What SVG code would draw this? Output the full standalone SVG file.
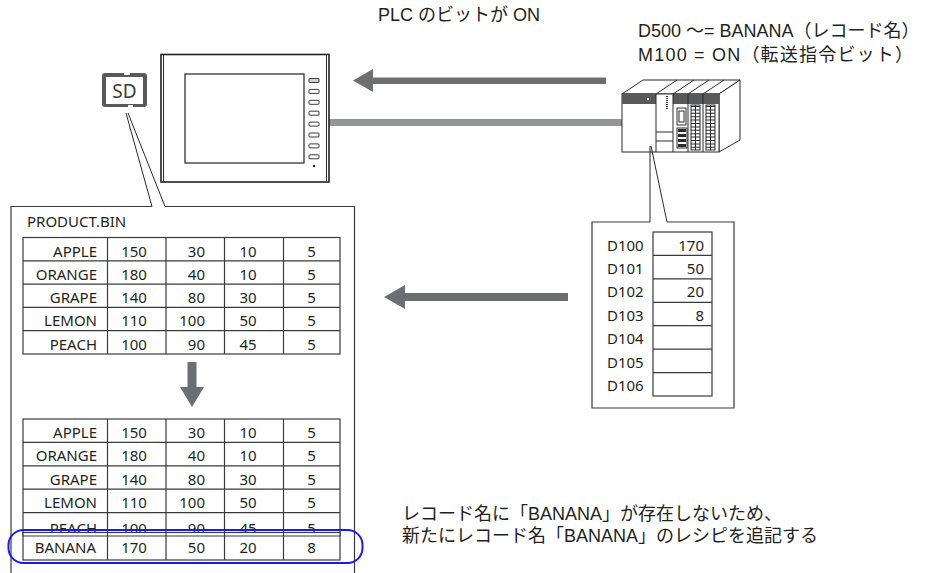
<svg xmlns="http://www.w3.org/2000/svg" width="926" height="573" viewBox="0 0 926 573">
  <defs>
    <style>
      .txt { font-family: "Liberation Sans", "Noto Sans CJK JP", sans-serif; font-size: 18px; fill: #231f20; }
      .tb { font-family: "Noto Sans", "Open Sans", sans-serif; font-size: 15px; fill: #231f20; }
      .grid { fill: #ffffff; stroke: #3a3a3a; stroke-width: 1.2; }
      .gl { stroke: #3a3a3a; stroke-width: 1.2; fill: none; }
      .box { fill: #ffffff; stroke: #3a3a3a; stroke-width: 1.2; }
      .ln { stroke: #2a2a2a; stroke-width: 1; fill: none; }
      .arrow { fill: #6d6e71; }
      .dev { fill: #ffffff; stroke: #2a2a2a; stroke-width: 1; }
      .dark { fill: #58595b; }
      .e { text-anchor: end; }
      .m { text-anchor: middle; }
    </style>
  </defs>

  <!-- captions -->
  <text class="txt e" x="540" y="21">PLC のビットが ON</text>
  <text class="txt" x="638" y="37">D500 ～= BANANA（レコード名）</text>
  <text class="txt" x="638" y="61" textLength="275" lengthAdjust="spacing">M100 = ON（転送指令ビット）</text>
  <text class="txt" x="402" y="520">レコード名に「BANANA」が存在しないため、</text>
  <text class="txt" x="402" y="542">新たにレコード名「BANANA」のレシピを追記する</text>

  <!-- connectors -->
  <g id="connectors">
    <rect x="329" y="119" width="293" height="7" fill="#939598"/>
    <polygon class="arrow" points="353,80.5 373,69 373,77.5 606,77.5 606,84 373,84 373,92"/>
    <polygon class="arrow" points="384,297 405,285 405,293 568,293 568,301 405,301 405,309"/>
  </g>

  <!-- SD card -->
  <g id="sd-card">
    <path class="dark" d="M105,73 H124 V75 H130 V73 H144 Q147,73 147,76 V104 Q147,107 144,107 H133 V105 H128 V107 H105 Q102,107 102,104 V76 Q102,73 105,73 Z"/>
    <rect x="106" y="77" width="37" height="27" fill="#ffffff"/>
    <text x="124.5" y="98" font-family="Noto Sans, Open Sans, sans-serif" font-size="19" fill="#3a3a3a" text-anchor="middle">SD</text>
  </g>

  <!-- operator panel -->
  <g id="hmi">
    <rect x="161" y="54.5" width="168" height="127.5" fill="#ffffff" stroke="#222" stroke-width="1.6"/>
    <line class="ln" x1="163.5" y1="55" x2="163.5" y2="181.5"/>
    <line class="ln" x1="326.5" y1="55" x2="326.5" y2="181.5"/>
    <rect x="185" y="74" width="119" height="89" fill="#ffffff" stroke="#222" stroke-width="1.2"/>
    <g fill="#ffffff" stroke="#222" stroke-width="0.9">
      <rect x="309" y="78.5" width="10" height="4" rx="1" fill="#cfcfcf"/>
      <rect x="309" y="89.4" width="10" height="4" rx="1"/>
      <rect x="309" y="100.3" width="10" height="4" rx="1"/>
      <rect x="309" y="111.2" width="10" height="4" rx="1"/>
      <rect x="309" y="122.1" width="10" height="4" rx="1"/>
      <rect x="309" y="133" width="10" height="4" rx="1"/>
      <rect x="309" y="143.9" width="10" height="4" rx="1"/>
      <rect x="309" y="154.8" width="10" height="4" rx="1"/>
    </g>
    <circle cx="314" cy="166" r="1.2" fill="#222"/>
  </g>

  <!-- PLC rack -->
  <g id="plc">
    <polygon class="dev" points="622,94 643,80 740,80 719,94"/>
    <polygon class="dev" points="719,94 740,80 740,140 719,152"/>
    <rect class="dev" x="622" y="94" width="97" height="58"/>
    <rect class="dark" x="622" y="94" width="34" height="10"/>
    <rect class="dark" x="673" y="94" width="46" height="10"/>
    <rect x="647" y="98" width="2" height="2" fill="#ffffff"/>
    <g class="ln">
      <line x1="656" y1="94" x2="677" y2="80"/>
      <line x1="673" y1="94" x2="694" y2="80"/>
      <line x1="688" y1="94" x2="709" y2="80"/>
      <line x1="703" y1="94" x2="724" y2="80"/>
      <line x1="656" y1="94" x2="656" y2="152"/>
      <line x1="673" y1="94" x2="673" y2="152"/>
      <line x1="688" y1="94" x2="688" y2="152"/>
      <line x1="703" y1="94" x2="703" y2="152"/>
      <line x1="656" y1="132" x2="673" y2="132"/>
      <line x1="656" y1="141" x2="673" y2="141"/>
    </g>
    <line x1="667" y1="96" x2="667" y2="109" stroke="#2a2a2a" stroke-width="2" stroke-dasharray="1 1"/>
    <!-- serial port and terminal block -->
    <rect class="dev" x="677" y="108" width="9" height="17"/>
    <rect class="dev" x="679" y="111" width="5" height="11"/>
    <rect class="dev" x="677" y="128" width="10" height="20"/>
    <line x1="682" y1="129" x2="682" y2="147" stroke="#2a2a2a" stroke-width="8" stroke-dasharray="3 2"/>
    <!-- I/O terminal ladders -->
    <rect class="dev" x="691" y="105" width="9" height="45"/>
    <line x1="695.5" y1="106" x2="695.5" y2="149" stroke="#2a2a2a" stroke-width="9" stroke-dasharray="1 2.4"/>
    <line class="ln" x1="695.5" y1="105" x2="695.5" y2="150"/>
    <rect class="dev" x="706" y="105" width="9" height="45"/>
    <line x1="710.5" y1="106" x2="710.5" y2="149" stroke="#2a2a2a" stroke-width="9" stroke-dasharray="1 2.4"/>
    <line class="ln" x1="710.5" y1="105" x2="710.5" y2="150"/>
  </g>

  <!-- file callout -->
  <g id="file-callout">
    <path class="box" d="M152,206.5 H11 V580 H354.5 V206.5 H165"/>
    <line class="ln" x1="126" y1="113" x2="152" y2="206.5"/>
    <line class="ln" x1="128" y1="113" x2="165" y2="206.5"/>
    <text class="tb" x="27" y="227">PRODUCT.BIN</text>
  </g>

  <!-- table before -->
  <g id="table-before">
    <rect class="grid" x="23" y="237.5" width="317" height="116.5"/>
    <path class="gl" d="M107.5,237.5 V354 M166,237.5 V354 M224.5,237.5 V354 M283.5,237.5 V354 M23,260.8 H340 M23,284.1 H340 M23,307.4 H340 M23,330.7 H340"/>
    <g class="tb">
      <text class="e" x="97" y="256.5">APPLE</text><text class="m" x="134" y="256.5">150</text><text class="e" x="205" y="256.5">30</text><text class="m" x="248" y="256.5">10</text><text class="m" x="311.5" y="256.5">5</text>
      <text class="e" x="97" y="279.8">ORANGE</text><text class="m" x="134" y="279.8">180</text><text class="e" x="205" y="279.8">40</text><text class="m" x="248" y="279.8">10</text><text class="m" x="311.5" y="279.8">5</text>
      <text class="e" x="97" y="303.1">GRAPE</text><text class="m" x="134" y="303.1">140</text><text class="e" x="205" y="303.1">80</text><text class="m" x="248" y="303.1">30</text><text class="m" x="311.5" y="303.1">5</text>
      <text class="e" x="97" y="326.4">LEMON</text><text class="m" x="134" y="326.4">110</text><text class="e" x="205" y="326.4">100</text><text class="m" x="248" y="326.4">50</text><text class="m" x="311.5" y="326.4">5</text>
      <text class="e" x="97" y="349.7">PEACH</text><text class="m" x="134" y="349.7">100</text><text class="e" x="205" y="349.7">90</text><text class="m" x="248" y="349.7">45</text><text class="m" x="311.5" y="349.7">5</text>
    </g>
  </g>

  <polygon id="down-arrow" class="arrow" points="187.5,362 196.5,362 196.5,387 204,387 192,407 180,387 187.5,387"/>

  <!-- table after -->
  <g id="table-after">
    <rect class="grid" x="23" y="419" width="317" height="117"/>
    <path class="gl" d="M107.5,419 V536 M166,419 V536 M224.5,419 V536 M283.5,419 V536 M23,442.4 H340 M23,465.8 H340 M23,489.2 H340 M23,512.6 H340"/>
    <g class="tb">
      <text class="e" x="97" y="438">APPLE</text><text class="m" x="134" y="438">150</text><text class="e" x="205" y="438">30</text><text class="m" x="248" y="438">10</text><text class="m" x="311.5" y="438">5</text>
      <text class="e" x="97" y="461.4">ORANGE</text><text class="m" x="134" y="461.4">180</text><text class="e" x="205" y="461.4">40</text><text class="m" x="248" y="461.4">10</text><text class="m" x="311.5" y="461.4">5</text>
      <text class="e" x="97" y="484.8">GRAPE</text><text class="m" x="134" y="484.8">140</text><text class="e" x="205" y="484.8">80</text><text class="m" x="248" y="484.8">30</text><text class="m" x="311.5" y="484.8">5</text>
      <text class="e" x="97" y="508.2">LEMON</text><text class="m" x="134" y="508.2">110</text><text class="e" x="205" y="508.2">100</text><text class="m" x="248" y="508.2">50</text><text class="m" x="311.5" y="508.2">5</text>
      <text class="e" x="97" y="533.5">PEACH</text><text class="m" x="134" y="533.5">100</text><text class="e" x="205" y="533.5">90</text><text class="m" x="248" y="533.5">45</text><text class="m" x="311.5" y="533.5">5</text>
    </g>
    <!-- appended record row -->
    <rect class="grid" x="23" y="532.5" width="317" height="27.5"/>
    <path class="gl" d="M107.5,532.5 V560 M166,532.5 V560 M224.5,532.5 V560 M283.5,532.5 V560 M23,536 H340"/>
    <g class="tb">
      <text class="e" x="96" y="553.3">BANANA</text><text class="m" x="134" y="553.3">170</text><text class="e" x="205" y="553.3">50</text><text class="m" x="248" y="553.3">20</text><text class="m" x="311.5" y="553.3">8</text>
    </g>
    <rect x="8.5" y="530" width="354" height="33" rx="15" fill="none" stroke="#1a1aee" stroke-width="2"/>
  </g>

  <!-- register callout -->
  <g id="register-callout">
    <path class="box" d="M650,222 H592 V408 H734 V222 H667"/>
    <line class="ln" x1="650" y1="146" x2="650" y2="222"/>
    <line class="ln" x1="651" y1="146" x2="667" y2="222"/>
    <rect class="grid" x="653" y="232" width="59" height="164"/>
    <path class="gl" d="M653,255.4 H712 M653,278.9 H712 M653,302.3 H712 M653,325.7 H712 M653,349.1 H712 M653,372.6 H712"/>
    <g class="tb">
      <text x="607" y="250.5">D100</text><text class="e" x="704" y="250.5">170</text>
      <text x="607" y="273.9">D101</text><text class="e" x="704" y="273.9">50</text>
      <text x="607" y="297.3">D102</text><text class="e" x="704" y="297.3">20</text>
      <text x="607" y="320.8">D103</text><text class="e" x="704" y="320.8">8</text>
      <text x="607" y="344.2">D104</text>
      <text x="607" y="367.6">D105</text>
      <text x="607" y="391">D106</text>
    </g>
  </g>
</svg>
